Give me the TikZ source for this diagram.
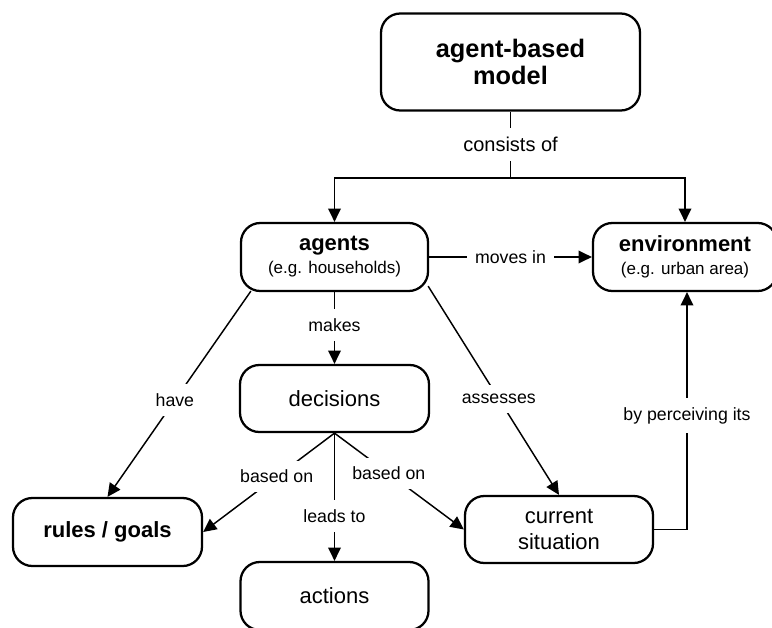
\documentclass[tikz,border=0pt]{standalone}
\usepackage{fontspec}
\setmainfont{Liberation Sans}
\usetikzlibrary{arrows.meta,calc}
\begin{document}
\begin{tikzpicture}[x=0.75pt,y=-0.75pt,
  box/.style={draw, line width=1.7pt, rounded corners=14.5pt, align=center, inner sep=0pt, fill=white},
  conn/.style={line width=1.1pt},
  arr/.style={conn, -{Triangle[length=10pt,width=9.5pt]}},
  lbl/.style={fill=white, inner xsep=6pt, inner ysep=7pt, font=\fontsize{13.3}{15}\selectfont},
  big/.style={font=\fontsize{16.5}{20}\selectfont},
  bigb/.style={font=\bfseries\fontsize{16.5}{20}\selectfont},
  sub/.style={font=\fontsize{12.75}{17.25}\selectfont},
]
\path[fill=white] (0,0) rectangle (772,628);
\useasboundingbox (0,0) rectangle (772,628);

\node[box, minimum width=194.25pt, minimum height=72.75pt, font=\bfseries\fontsize{19}{20.5}\selectfont] (abm) at (510.5,62) {agent-based\\model};
\node[box, sub, minimum width=140.25pt, minimum height=51pt] (agents) at (334.5,257) {{\bfseries\fontsize{16.5}{17.25}\selectfont agents}\\(e.g. households)};
\node[box, sub, minimum width=138pt, minimum height=51pt] (env) at (685,257) {{\bfseries\fontsize{16.5}{17.25}\selectfont environment}\\(e.g. urban area)};
\node[box, big, minimum width=141.75pt, minimum height=50.25pt] (decisions) at (334.5,398.5) {decisions};
\node[box, bigb, minimum width=141.75pt, minimum height=51pt] (rules) at (107.5,532) {rules / goals};
\node[box, big, minimum width=141pt, minimum height=50.25pt] (current) at (559,529.5) {current\\situation};
\node[box, big, minimum width=141pt, minimum height=51pt] (actions) at (334.5,596) {actions};

\coordinate (split) at (510.5,178);
\draw[conn] (abm.south) -- node[lbl, font=\fontsize{15}{17}\selectfont]{consists of} (split);
\draw[arr] (split) -| (agents.north);
\draw[arr] (split) -| (env.north);
\draw[arr] (agents.east) -- node[lbl]{moves in} (env.west);
\draw[arr] (agents.south) -- node[lbl, pos=0.46]{makes} (decisions.north);
\draw[arr] ($(agents.south west)+(11,-1)$) -- node[lbl, pos=0.53]{have} (rules.north);
\draw[arr] ($(agents.south east)+(-1,-6)$) -- node[lbl, pos=0.54]{assesses} (current.north);
\draw[arr] (decisions.south) -- node[lbl, pos=0.44]{based on} (rules.east);
\draw[arr] (decisions.south) -- node[lbl, pos=0.42]{based on} (current.west);
\draw[arr] (decisions.south) -- node[lbl, pos=0.65]{leads to} (actions.north);
\coordinate (envin) at ($(env.south)+(2,0)$);
\draw[arr] (current.east) -| node[lbl, pos=0.74]{by perceiving its} (envin);
\end{tikzpicture}
\end{document}
